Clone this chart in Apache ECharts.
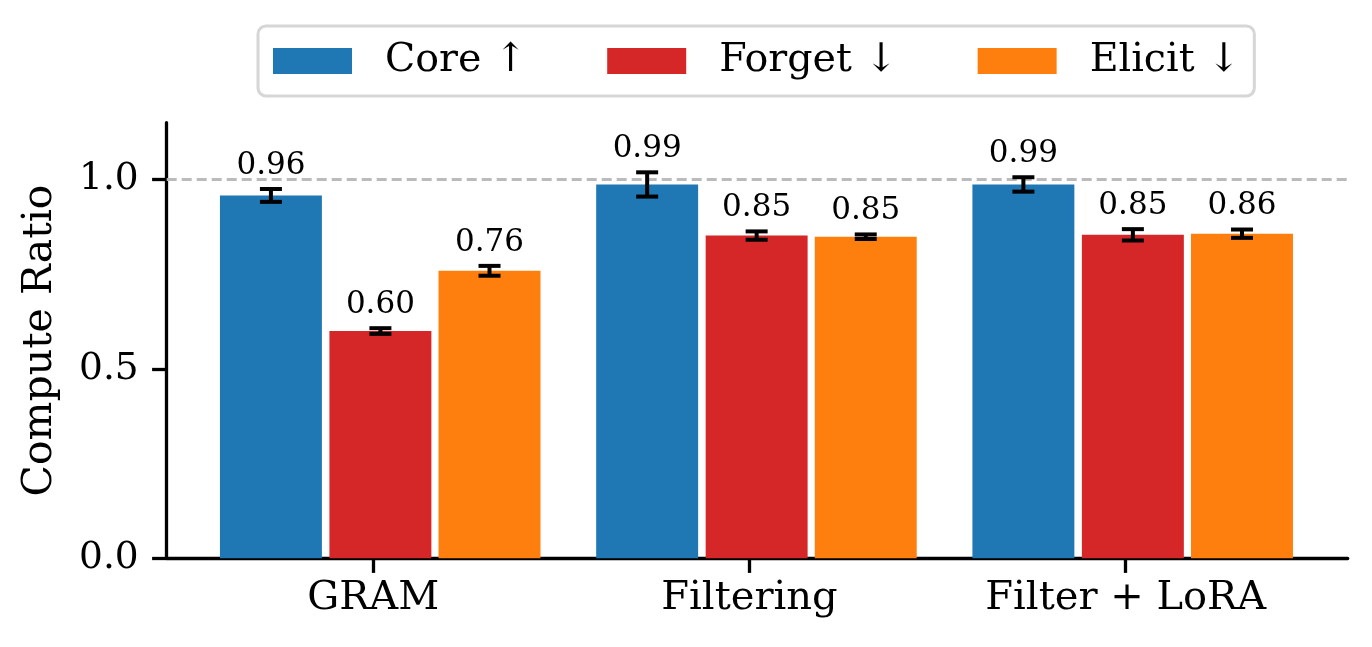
<!DOCTYPE html>
<html>
<head>
<meta charset="utf-8">
<script src="https://cdn.jsdelivr.net/npm/echarts@6/dist/echarts.min.js"></script>
<style>
  html, body { margin: 0; padding: 0; background: #fff; }
  #chart { width: 1372px; height: 647px; }
</style>
</head>
<body>
<div id="chart"></div>
<script>
// 方法 (x 轴)
var categories = ['GRAM', 'Filtering', 'Filter + LoRA'];
var seriesNames = ['Core \u2191', 'Forget \u2193', 'Elicit \u2193'];

// 各指标均值与误差
var coreMean = [0.958, 0.987, 0.987];
var coreErr = [0.017, 0.032, 0.019];
var forgetMean = [0.600, 0.852, 0.854];
var forgetErr = [0.0075, 0.011, 0.015];
var elicitMean = [0.759, 0.849, 0.857];
var elicitErr = [0.013, 0.006, 0.011];

var yTicks = [0, 0.5, 1.0];
var refLine = 1.0;

var colors = ['#1f77b4', '#d62728', '#ff7f0e'];
var FONT = 'DejaVu Serif';
var barW = 0.271;
var offsets = [-0.272, 0.019, 0.309];

function toData(mean, err) {
    var out = [];
    for (var i = 0; i < mean.length; i++) {
        out.push([i, mean[i], err[i]]);
    }
    return out;
}

function makeRender(offset) {
    return function(params, api) {
        var xi = api.value(0);
        var mean = api.value(1);
        var err = api.value(2);
        var x = xi + offset;
        var tl = api.coord([x - barW / 2, mean]);
        var br = api.coord([x + barW / 2, 0]);
        var cx = api.coord([x, 0])[0];
        var top = api.coord([x, mean + err])[1];
        var bot = api.coord([x, mean - err])[1];
        var ly = api.coord([x, mean + err + 0.02])[1];
        var cap = 11;
        var eb = { stroke: '#000', lineWidth: 4 };
        return {
            type: 'group',
            children: [
                { type: 'rect', shape: { x: tl[0], y: tl[1], width: br[0] - tl[0], height: br[1] - tl[1] }, style: { fill: api.visual('color') } },
                { type: 'line', shape: { x1: cx, y1: top, x2: cx, y2: bot }, style: eb },
                { type: 'line', shape: { x1: cx - cap, y1: top, x2: cx + cap, y2: top }, style: eb },
                { type: 'line', shape: { x1: cx - cap, y1: bot, x2: cx + cap, y2: bot }, style: eb },
                {
                    type: 'text', x: cx, y: ly,
                    style: { text: mean.toFixed(2), fill: '#000', fontSize: 31, fontFamily: FONT, align: 'center', verticalAlign: 'bottom' }
                }
            ]
        };
    };
}

var means = [coreMean, forgetMean, elicitMean];
var errs = [coreErr, forgetErr, elicitErr];
var serie = [];
for (var s = 0; s < 3; s++) {
    serie.push({
        name: seriesNames[s],
        type: 'custom',
        z: 3,
        itemStyle: { color: colors[s] },
        encode: { x: 0, y: 1 },
        renderItem: makeRender(offsets[s]),
        data: toData(means[s], errs[s])
    });
}
// 参考虚线 y = 1.0
serie[0].markLine = {
    silent: true,
    symbol: 'none',
    z: 1,
    label: { show: false },
    lineStyle: { type: [10, 5], color: '#bbbbbb', width: 2.8 },
    data: [{ yAxis: refLine }]
};

var myChart = echarts.init(document.getElementById('chart'));
var option = {
    backgroundColor: '#fff',
    animation: false,
    color: colors,
    legend: {
        data: seriesNames.map(function(n) { return { name: n, icon: 'rect' }; }),
        left: 258,
        top: 26,
        itemWidth: 79,
        itemHeight: 26,
        itemGap: 80,
        padding: [15, 14, 15, 15],
        borderColor: '#d6d6d6',
        borderWidth: 3,
        borderRadius: 8,
        backgroundColor: '#fff',
        textStyle: {
            fontFamily: FONT,
            fontSize: 39.6,
            color: '#000',
            padding: [0, 0, 0, 28]
        }
    },
    grid: {
        left: 166.7,
        right: 24.3,
        top: 122.7,
        bottom: 88.7,
        containLabel: false,
        outerBoundsMode: 'none'
    },
    xAxis: {
        type: 'value',
        min: -0.549,
        max: 2.59,
        splitLine: { show: false },
        axisLine: { show: true, lineStyle: { color: '#000', width: 3.3 } },
        axisTick: { show: true, customValues: [0, 1, 2], length: 14.6, lineStyle: { color: '#000', width: 3.3 } },
        axisLabel: {
            customValues: [0, 1, 2],
            margin: 20,
            fontFamily: FONT,
            fontSize: 40,
            color: '#000',
            formatter: function(v) { return categories[Math.round(v)]; }
        }
    },
    yAxis: {
        type: 'value',
        min: 0,
        max: 1.15,
        name: 'Compute Ratio',
        nameLocation: 'middle',
        nameRotate: 90,
        nameGap: 106,
        nameTextStyle: { fontFamily: FONT, fontSize: 41, color: '#000' },
        splitLine: { show: false },
        axisLine: { show: true, onZero: false, lineStyle: { color: '#000', width: 3.3 } },
        axisTick: { show: true, customValues: yTicks, length: 14.6, lineStyle: { color: '#000', width: 3.3 } },
        axisLabel: {
            customValues: yTicks,
            margin: 28,
            fontFamily: FONT,
            fontSize: 37.5,
            color: '#000',
            formatter: function(v) { return v.toFixed(1); }
        }
    },
    series: serie
};
myChart.setOption(option);
</script>
</body>
</html>
